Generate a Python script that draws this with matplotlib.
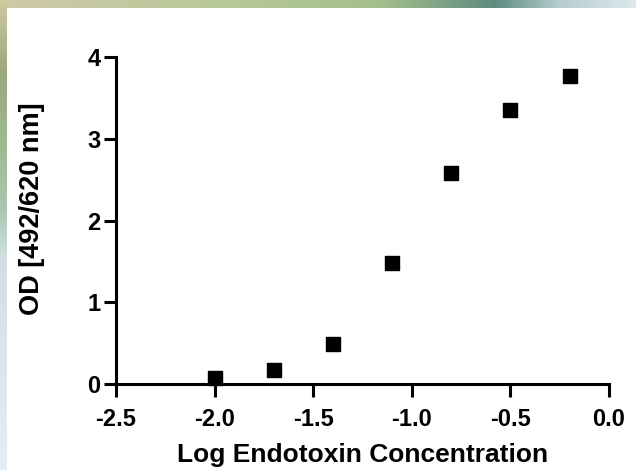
import numpy as np
import matplotlib
matplotlib.use('Agg')
import matplotlib.pyplot as plt
from matplotlib.colors import LinearSegmentedColormap

plt.rcParams['font.family'] = ['Liberation Sans', 'DejaVu Sans']
plt.rcParams['font.weight'] = 'bold'

## data
log_conc = [-2.0, -1.7, -1.4, -1.1, -0.8, -0.5, -0.2]
od = [0.07, 0.17, 0.49, 1.48, 2.58, 3.35, 3.77]

x_ticks = [-2.5, -2.0, -1.5, -1.0, -0.5, 0.0]
y_ticks = [0, 1, 2, 3, 4]

fig = plt.figure(figsize=(6.36, 4.70), dpi=100)

## background strips (top and left edges)
bg = fig.add_axes([0, 0, 1, 1], zorder=-10)
bg.set_axis_off()
top_cm = LinearSegmentedColormap.from_list('top', [
    (0.0, '#cfc9a6'), (0.35, '#b8c89a'), (0.6, '#a3bf8c'),
    (0.78, '#5e8a80'), (0.88, '#b5cccc'), (1.0, '#dce8ec')])
left_cm = LinearSegmentedColormap.from_list('left', [
    (0.0, '#cfc9a0'), (0.15, '#9aa878'), (0.3, '#9cbb8c'),
    (0.45, '#a9c8b0'), (0.55, '#cfe0e2'), (1.0, '#e2eef3')])
bg.imshow(top_cm(np.linspace(0, 1, 300))[None, :, :], extent=[0, 636, 462, 470],
          aspect='auto')
bg.imshow(left_cm(np.linspace(0, 1, 300))[:, None, :], extent=[0, 7, 0, 470],
          aspect='auto')
bg.set_xlim(0, 636)
bg.set_ylim(0, 470)

ax = fig.add_axes([116 / 636, 1 - 384 / 470, (609 - 116) / 636, (384 - 57) / 470])
ax.set_facecolor('none')
ax.scatter(log_conc, od, marker='s', s=105, color='black', clip_on=False, zorder=3)

ax.set_xlim(-2.5, 0)
ax.set_ylim(0, 4)
ax.set_xticks(x_ticks)
ax.set_xticklabels([f'{t:.1f}' for t in x_ticks])
ax.set_yticks(y_ticks)

for s in ['top', 'right']:
    ax.spines[s].set_visible(False)
for s in ['left', 'bottom']:
    ax.spines[s].set_linewidth(2.2)
ax.tick_params(direction='out', length=9, width=2.2, labelsize=17)
ax.tick_params(axis='x', pad=8)
ax.tick_params(axis='y', pad=2)
for lab in ax.get_xticklabels() + ax.get_yticklabels():
    lab.set_fontweight('bold')

ax.set_xlabel('Log Endotoxin Concentration', fontsize=19, fontweight='bold')
ax.set_ylabel('OD [492/620 nm]', fontsize=19.5, fontweight='bold')
ax.xaxis.set_label_coords(0.5, (384 - 443) / 327)
ax.yaxis.set_label_coords((45 - 116) / 493, (384 - 209) / 327)

fig.savefig('out.png', dpi=100)
